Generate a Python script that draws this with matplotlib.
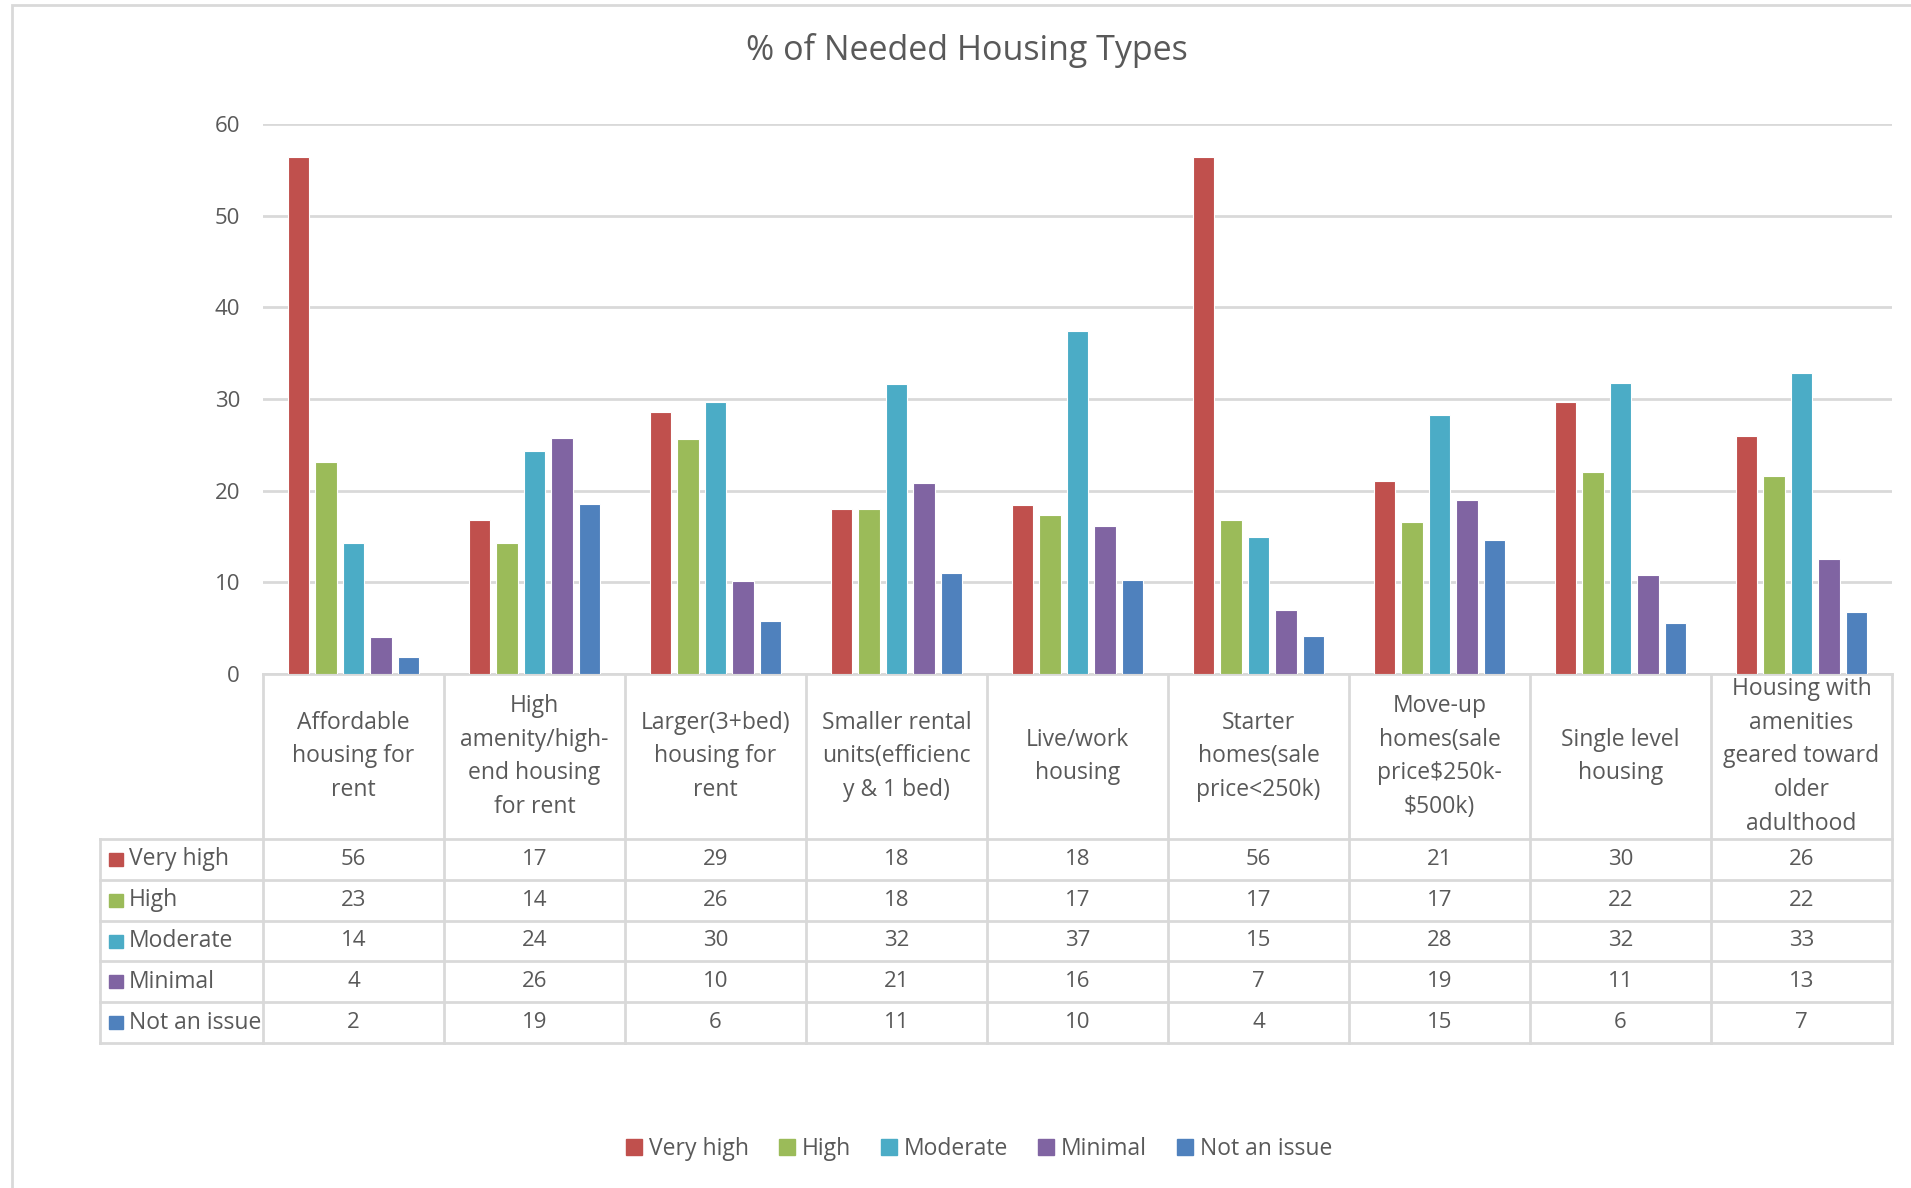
import matplotlib.pyplot as plt
import matplotlib.transforms as mtransforms
from matplotlib.lines import Line2D
from matplotlib.patches import Rectangle

plt.rcParams['font.family'] = ['Open Sans', 'DejaVu Sans']

categories = [
    "Affordable\nhousing for\nrent",
    "High\namenity/high-\nend housing\nfor rent",
    "Larger(3+bed)\nhousing for\nrent",
    "Smaller rental\nunits(efficienc\ny & 1 bed)",
    "Live/work\nhousing",
    "Starter\nhomes(sale\nprice<250k)",
    "Move-up\nhomes(sale\nprice$250k-\n$500k)",
    "Single level\nhousing",
    "Housing with\namenities\ngeared toward\nolder\nadulthood",
]

series_names = ["Very high", "High", "Moderate", "Minimal", "Not an issue"]
colors = ["#C0504D", "#9BBB59", "#4BACC6", "#8064A2", "#4F81BD"]

very_high = [56.4, 16.8, 28.6, 18.0, 18.4, 56.4, 21.1, 29.7, 26.0]
high = [23.1, 14.3, 25.6, 18.0, 17.3, 16.8, 16.6, 22.0, 21.6]
moderate = [14.3, 24.3, 29.7, 31.6, 37.4, 15.0, 28.3, 31.8, 32.8]
minimal = [4.0, 25.8, 10.1, 20.8, 16.1, 7.0, 19.0, 10.8, 12.6]
not_an_issue = [1.9, 18.6, 5.8, 11.0, 10.3, 4.2, 14.6, 5.6, 6.8]

series = [very_high, high, moderate, minimal, not_an_issue]

TEXT = "#595959"
GRID = "#D9D9D9"
W, H = 1911, 1188

fig = plt.figure(figsize=(W / 100, H / 100), dpi=100)

# pixel helpers (top-left origin)
def fx(px):
    return px / W

def fy(py):
    return 1 - py / H

ax_left, ax_right, ax_top, ax_bottom = 263, 1892, 124, 674
ax = fig.add_axes([fx(ax_left), fy(ax_bottom), fx(ax_right - ax_left), (ax_bottom - ax_top) / H])

n = len(categories)
x = list(range(n))
width = 0.12
pitch = 0.152

for k, (vals, name, c) in enumerate(zip(series, series_names, colors)):
    ax.bar([i + (k - 2) * pitch for i in x], vals, width=width, color=c,
           edgecolor="white", linewidth=0.8, label=name, zorder=3)

ax.set_xlim(-0.5, n - 0.5)
ax.set_ylim(0, 60)
ax.set_yticks(range(0, 61, 10))
ax.set_xticks([])
ax.tick_params(axis="y", length=0, pad=16.5, labelsize=16, labelcolor=TEXT)
ax.grid(axis="y", color=GRID, linewidth=2, zorder=0)
for s in ["top", "right", "left"]:
    ax.spines[s].set_visible(False)
ax.spines["bottom"].set_color(GRID)
ax.spines["bottom"].set_linewidth(2)

fig.text(fx(967), fy(51), "% of Needed Housing Types", fontsize=24.5, color=TEXT,
         ha="center", va="center")

# data table under the chart
trans = mtransforms.blended_transform_factory(ax.transData, fig.transFigure)
header_bottom = 839
row_h = 40.8
row_tops = [header_bottom + r * row_h for r in range(len(series) + 1)]
label_left = 100

right_fig = fig.transFigure.inverted().transform(ax.transData.transform((n - 0.5, 0)))[0]
for py in row_tops:
    fig.add_artist(Line2D([fx(label_left), right_fig], [fy(py), fy(py)], color=GRID, lw=2,
                          transform=fig.transFigure))

# vertical column borders
for b in range(n + 1):
    fig.add_artist(Line2D([b - 0.5, b - 0.5], [fy(ax_bottom), fy(row_tops[-1])],
                          color=GRID, lw=2, transform=trans))
fig.add_artist(Line2D([fx(label_left), fx(label_left)], [fy(header_bottom), fy(row_tops[-1])],
                      color=GRID, lw=2, transform=fig.transFigure))

# category headers
for i, cat in enumerate(categories):
    fig.text(i, fy((ax_bottom + header_bottom) / 2), cat, transform=trans,
             ha="center", va="center", fontsize=16.5, color=TEXT, linespacing=1.55,
             parse_math=False)

# rows
for r, (vals, name, c) in enumerate(zip(series, series_names, colors)):
    yc = fy(row_tops[r] + row_h / 2)
    fig.add_artist(Rectangle((fx(109), yc - 6.5 / H), 14 / W, 13 / H, color=c,
                             transform=fig.transFigure))
    fig.text(fx(129), yc, name, ha="left", va="center", fontsize=16.5, color=TEXT)
    for i, v in enumerate(vals):
        fig.text(i, yc, f"{v:.0f}", transform=trans, ha="center", va="center",
                 fontsize=16, color=TEXT)

# chart frame (top and left edges visible)
fig.add_artist(Rectangle((fx(12), -0.1), 1.2, fy(5) + 0.1, fill=False, edgecolor=GRID,
                         lw=2, transform=fig.transFigure))

handles = [Rectangle((0, 0), 1, 1, color=c) for c in colors]
fig.legend(handles, series_names, loc="center", bbox_to_anchor=(fx(979), fy(1149)),
           ncol=5, frameon=False, fontsize=16.5, labelcolor=TEXT, handlelength=0.7,
           handleheight=0.7, handletextpad=0.3, columnspacing=1.3)

fig.savefig("out.png", dpi=100)
